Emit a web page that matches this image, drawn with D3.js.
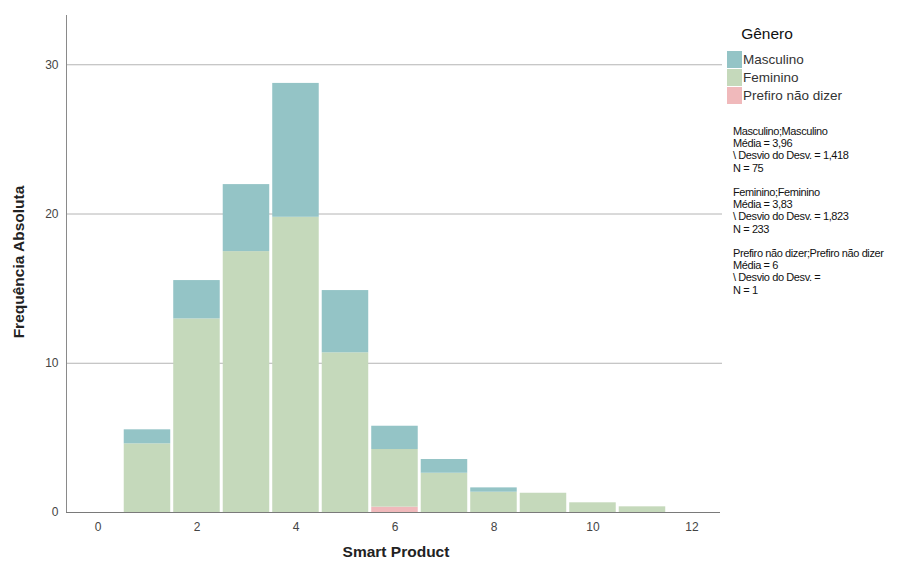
<!DOCTYPE html>
<html><head><meta charset="utf-8">
<script src="https://cdn.jsdelivr.net/npm/d3@7/dist/d3.min.js"></script>
<style>body{margin:0;background:#fff;}svg{display:block;font-family:"Liberation Sans",Arial,sans-serif;}</style>
</head><body><svg id="c" width="924" height="566"></svg>
<script>
const bins = [1,2,3,4,5,6,7,8,9,10,11];
const prefiro   = [0,0,0,0,0,0.36,0,0,0,0,0];
const feminino  = [4.6,12.97,17.48,19.78,10.7,3.86,2.63,1.36,1.29,0.65,0.38];
const masculino = [0.94,2.57,4.49,8.97,4.17,1.56,0.92,0.29,0,0,0];
const seriesNames = ["Prefiro não dizer","Feminino","Masculino"];
const seriesColors = {"Masculino":"#94c4c6","Feminino":"#c5d9bb","Prefiro não dizer":"#f0b9bb"};
const xTicks = [0,2,4,6,8,10,12];
const yTicks = [0,10,20,30];
const legendOrder = ["Masculino","Feminino","Prefiro não dizer"];
const stats = [
  ["Masculino;Masculino","Média = 3,96","\\ Desvio do Desv. = 1,418","N = 75"],
  ["Feminino;Feminino","Média = 3,83","\\ Desvio do Desv. = 1,823","N = 233"],
  ["Prefiro não dizer;Prefiro não dizer","Média = 6","\\ Desvio do Desv. =","N = 1"]
];

const svg = d3.select("#c");
const L=66, R=720, T=15, B=512;
const x = d3.scaleLinear().domain([-0.636,12.576]).range([L,R]);
const y = d3.scaleLinear().domain([0,33.3]).range([B,T]);

const rows = bins.map((b,i)=>({bin:b,"Prefiro não dizer":prefiro[i],"Feminino":feminino[i],"Masculino":masculino[i]}));
const stacked = d3.stack().keys(seriesNames)(rows);

// gridlines
svg.append("g").selectAll("line").data(yTicks.filter(d=>d>0)).join("line")
  .attr("x1",L).attr("x2",R+2).attr("y1",d=>y(d)+0.5).attr("y2",d=>y(d)+0.5)
  .attr("stroke","#b4b4b4").attr("stroke-width",1);

// bars
svg.append("g").selectAll("g").data(stacked).join("g")
  .attr("fill",s=>seriesColors[s.key])
  .selectAll("rect").data(s=>s.filter(d=>d[1]-d[0]>0)).join("rect")
  .attr("x",d=>x(d.data.bin-0.5)+1.5)
  .attr("width",d=>x(d.data.bin+0.5)-x(d.data.bin-0.5)-3)
  .attr("y",d=>y(d[1]))
  .attr("height",d=>y(d[0])-y(d[1]));

// axes
const yAxis = d3.axisLeft(y).tickValues(yTicks).tickSize(0).tickPadding(8);
const gy = svg.append("g").attr("transform",`translate(${L+0.5},0)`).call(yAxis);
gy.select(".domain").attr("stroke","#8a8a8a").attr("d",`M0,${T}V${B}`);
gy.selectAll("text").attr("font-size",12).attr("fill","#444").attr("font-family","Liberation Sans, Arial, sans-serif");

const xAxis = d3.axisBottom(x).tickValues(xTicks).tickSize(0).tickPadding(10);
const gx = svg.append("g").attr("transform",`translate(0,${B+0.5})`).call(xAxis);
gx.select(".domain").attr("stroke","#7a7a7a").attr("d",`M${L},0H${R}`);
gx.selectAll("text").attr("font-size",12).attr("fill","#444").attr("font-family","Liberation Sans, Arial, sans-serif");

// axis titles
svg.append("text").attr("transform","translate(24,262) rotate(-90)").attr("text-anchor","middle")
  .attr("font-size",15.5).attr("font-weight","bold").attr("fill","#222").text("Frequência Absoluta");
svg.append("text").attr("x",396).attr("y",557).attr("text-anchor","middle")
  .attr("font-size",15.5).attr("font-weight","bold").attr("fill","#222").text("Smart Product");

// legend
svg.append("text").attr("x",767).attr("y",39).attr("text-anchor","middle")
  .attr("font-size",15.5).attr("fill","#111").attr("font-family","Liberation Sans, Arial, sans-serif").text("Gênero");
const lg = svg.append("g").selectAll("g").data(legendOrder).join("g")
  .attr("transform",(d,i)=>`translate(727,${51+i*18})`);
lg.append("rect").attr("width",15).attr("height",17).attr("fill",d=>seriesColors[d]);
lg.append("text").attr("x",16).attr("y",13).attr("font-size",13.5).attr("fill","#333").text(d=>d);

// stats
const sg = svg.append("g").attr("font-size",11).attr("fill","#111");
stats.forEach((blk,bi)=>{
  blk.forEach((line,li)=>{
    sg.append("text").attr("x",733).attr("y",135+bi*61+li*12.2).attr("letter-spacing",-0.4).text(line);
  });
});
</script></body></html>
